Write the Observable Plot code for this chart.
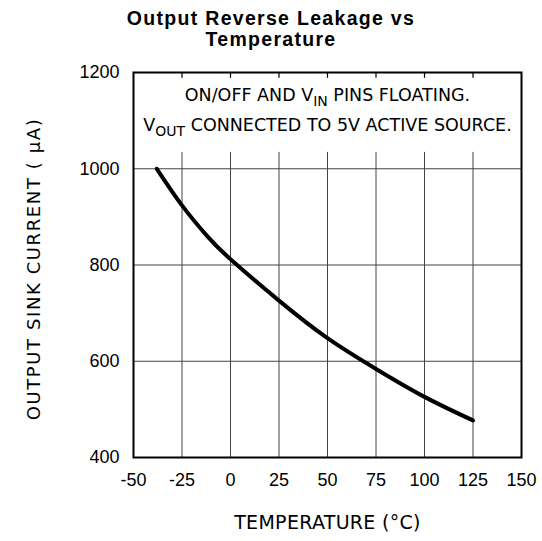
<!DOCTYPE html>
<html><head><meta charset="utf-8">
<script src="https://cdn.jsdelivr.net/npm/d3@7"></script>
<script src="https://cdn.jsdelivr.net/npm/@observablehq/plot@0.6"></script>
<style>
body{margin:0;background:#fff;}
#title{font-family:"Liberation Sans",Arial,Helvetica,sans-serif;font-weight:bold;font-size:19.5px;letter-spacing:1.3px;line-height:20.5px;text-align:center;width:542px;padding-top:8px;height:52px;box-sizing:content-box;color:#000}
#chart svg{display:block}
</style></head><body>
<div id="title">Output Reverse Leakage vs<br>Temperature</div>
<div id="chart"></div>
<script>
// ---- data ----
const temperature = [-38, -25, -12, 0, 25, 50, 75, 100, 125];
const sinkCurrent = [1000, 924, 860, 812, 726, 648, 584, 526, 477];
const xTicks = [-50, -25, 0, 25, 50, 75, 100, 125, 150];
const yTicks = [400, 600, 800, 1000, 1200];
const xGrid = [-25, 0, 25, 50, 75, 100, 125];
const yGrid = [600, 800, 1000];
const xLabel = "TEMPERATURE (°C)";
const yLabel = "OUTPUT SINK CURRENT ( μA)";
const noteLines = ["ON/OFF AND V_{IN} PINS FLOATING.", "V_{OUT} CONNECTED TO 5V ACTIVE SOURCE."];
const boxBottom = 1034;   // lower edge of the note area (data units)
const topTickEnd = 1188;  // end of the short ticks at the top edge

const rows = temperature.map((t, k) => ({t, i: sinkCurrent[k]}));
const labelFont = '"DejaVu Sans",Verdana,sans-serif';
const tickFont = '"Liberation Sans",Arial,Helvetica,sans-serif';
const fmt = d => String(d);

const plot = Plot.plot({
  width: 542,
  height: 481,
  marginTop: 12,
  marginBottom: 84,
  marginLeft: 133,
  marginRight: 21,
  style: {background: "white", color: "black", fontFamily: tickFont, fontSize: "18px"},
  x: {domain: [-50, 150]},
  y: {domain: [400, 1200]},
  marks: [
    Plot.ruleX(xGrid, {y1: 400, y2: boxBottom, stroke: "#444", strokeWidth: 1}),
    Plot.ruleY(yGrid, {stroke: "#444", strokeWidth: 1}),
    Plot.ruleX(xGrid, {y1: 1200, y2: topTickEnd, stroke: "#000", strokeWidth: 1.2}),
    Plot.axisX({ticks: xTicks, tickFormat: fmt, tickSize: 0, tickPadding: 16, label: null, fontSize: 18, fontFamily: tickFont}),
    Plot.axisY({ticks: yTicks, tickFormat: fmt, tickSize: 0, tickPadding: 14, label: null, fontSize: 18, fontFamily: tickFont}),
    Plot.line(rows, {x: "t", y: "i", stroke: "black", strokeWidth: 4, curve: "natural"}),
    Plot.frame({stroke: "black", strokeWidth: 2}),
    Plot.text([xLabel], {text: d => d, frameAnchor: "bottom", dy: 71, fontFamily: labelFont, fontSize: 19, fill: "black"}),
    Plot.text([yLabel], {text: d => d, frameAnchor: "left", textAnchor: "middle", rotate: -90, dx: -99, dy: 4, fontFamily: labelFont, fontSize: 18, fill: "black"}),
    Plot.text([noteLines[0]], {text: d => d, frameAnchor: "top", lineAnchor: "top", dy: 16, fontFamily: labelFont, fontSize: 17.5, fill: "black"}),
    Plot.text([noteLines[1]], {text: d => d, frameAnchor: "top", lineAnchor: "top", dy: 46, fontFamily: labelFont, fontSize: 17.5, fill: "black"})
  ]
});

const sel = d3.select(plot).selectAll("text");
// letter spacing for the axis titles
sel.filter(function () { return this.textContent === yLabel; }).style("letter-spacing", "1.6px");
sel.filter(function () { return this.textContent === xLabel; }).style("letter-spacing", "0.3px");
// turn _{...} into subscript tspans
sel.each(function () {
  const s = this.textContent;
  if (!s.includes("_{")) return;
  const parts = s.split(/_\{([^}]*)\}/);
  const el = d3.select(this);
  el.text(null);
  let shifted = false;
  parts.forEach((p, k) => {
    if (!p) return;
    const ts = el.append("tspan").text(p);
    if (k % 2 === 1) { ts.attr("font-size", 14).attr("dy", 5); shifted = true; }
    else if (shifted) { ts.attr("dy", -5); shifted = false; }
  });
});

document.getElementById("chart").appendChild(plot);
</script></body></html>
